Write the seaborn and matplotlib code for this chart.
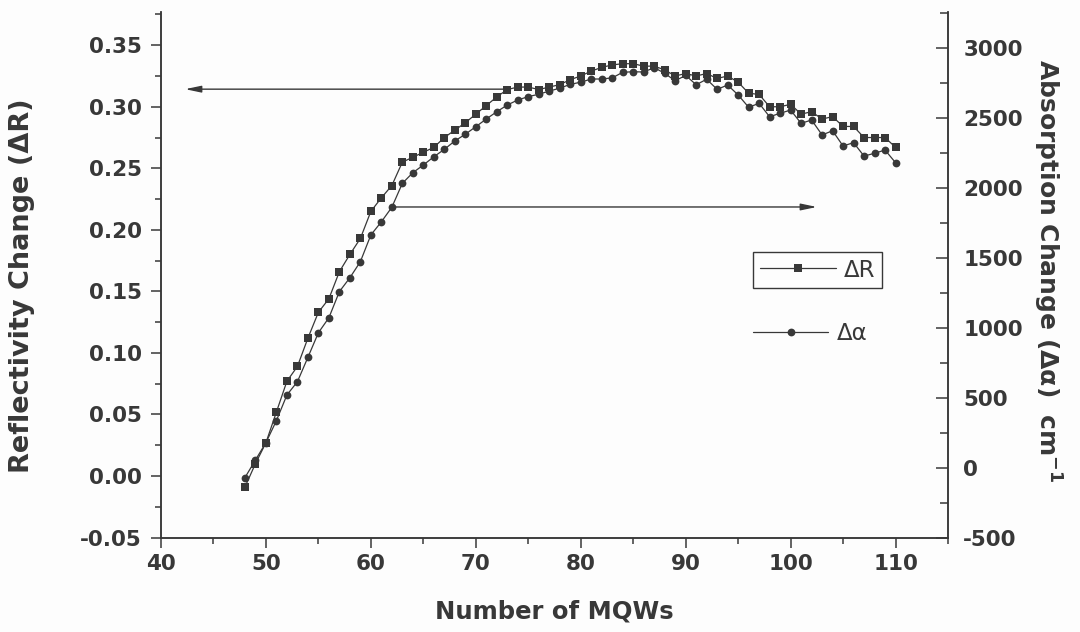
import matplotlib
matplotlib.use("Agg")
import matplotlib.pyplot as plt
from matplotlib.ticker import MultipleLocator
import seaborn as sns
import pandas as pd

# Number of quantum wells in the stack
mqw_count = [48, 49, 50, 51, 52, 53, 54, 55, 56, 57, 58, 59, 60, 61, 62, 63,
             64, 65, 66, 67, 68, 69, 70, 71, 72, 73, 74, 75, 76, 77, 78, 79,
             80, 81, 82, 83, 84, 85, 86, 87, 88, 89, 90, 91, 92, 93, 94, 95,
             96, 97, 98, 99, 100, 101, 102, 103, 104, 105, 106, 107, 108, 109, 110]

# Reflectivity change (left axis)
delta_r = [-0.009, 0.010, 0.027, 0.052, 0.077, 0.089, 0.112, 0.133, 0.144, 0.166,
           0.180, 0.193, 0.215, 0.226, 0.236, 0.255, 0.259, 0.263, 0.267, 0.275,
           0.281, 0.287, 0.294, 0.301, 0.308, 0.314, 0.316, 0.316, 0.314, 0.316,
           0.318, 0.322, 0.325, 0.329, 0.332, 0.334, 0.335, 0.335, 0.333, 0.333,
           0.330, 0.325, 0.327, 0.325, 0.327, 0.323, 0.325, 0.320, 0.311, 0.310,
           0.300, 0.300, 0.302, 0.294, 0.296, 0.290, 0.292, 0.284, 0.284, 0.275,
           0.275, 0.275, 0.267]

# Absorption change in cm^-1 (right axis)
delta_alpha = [-72, 54, 178, 336, 519, 614, 788, 964, 1071, 1258,
               1357, 1472, 1663, 1757, 1861, 2032, 2108, 2163, 2222, 2275,
               2335, 2383, 2437, 2492, 2544, 2592, 2628, 2652, 2669, 2692,
               2712, 2740, 2755, 2778, 2778, 2786, 2826, 2830, 2828, 2859,
               2819, 2765, 2804, 2737, 2776, 2704, 2735, 2664, 2576, 2604,
               2508, 2533, 2556, 2461, 2485, 2378, 2408, 2299, 2323, 2227,
               2247, 2270, 2180]

df = pd.DataFrame({"mqw": mqw_count, "dR": delta_r, "dA": delta_alpha})

sns.set_theme(style="ticks")
plt.rcParams["font.family"] = ["DejaVu Sans"]
plt.rcParams["axes.unicode_minus"] = False

ink = "#383838"
bg = "#fdfdfd"

fig = plt.figure(figsize=(10.8, 6.32), dpi=100, facecolor=bg)
ax = fig.add_axes([161 / 1080, 94.5 / 632, 787 / 1080, 525.5 / 632])
ax.set_facecolor(bg)
ax2 = ax.twinx()

sns.lineplot(data=df, x="mqw", y="dR", ax=ax, color=ink, linewidth=0.9,
             marker="s", markersize=5.2, markeredgewidth=0)
sns.lineplot(data=df, x="mqw", y="dA", ax=ax2, color=ink, linewidth=0.9,
             marker="o", markersize=5.6, markeredgewidth=0)

ax.set_xlim(40, 115)
ax.set_ylim(-0.05, 0.377)
ax2.set_ylim(-500, 3257)

ax.xaxis.set_minor_locator(MultipleLocator(5))
ax.yaxis.set_minor_locator(MultipleLocator(0.025))
ax2.yaxis.set_minor_locator(MultipleLocator(250))
ax.set_xticks([40, 50, 60, 70, 80, 90, 100, 110])
ax.set_yticks([-0.05, 0.00, 0.05, 0.10, 0.15, 0.20, 0.25, 0.30, 0.35])
ax.set_yticklabels(["-0.05", "0.00", "0.05", "0.10", "0.15", "0.20",
                    "0.25", "0.30", "0.35"])
ax2.set_yticks([-500, 0, 500, 1000, 1500, 2000, 2500, 3000])

for a in (ax, ax2):
    a.spines["top"].set_visible(False)
    for s in ("left", "right", "bottom"):
        a.spines[s].set_color(ink)
        a.spines[s].set_linewidth(1.1)
    a.set_xlabel("")
    a.set_ylabel("")
    a.grid(False)

ax.tick_params(axis="x", which="major", direction="out", length=7, width=1.1,
               color=ink, pad=5, labelsize=15.5, labelcolor=ink)
ax.tick_params(axis="x", which="minor", direction="out", length=4, width=1.1, color=ink)
ax.tick_params(axis="y", which="major", direction="out", length=7, width=1.1,
               color=ink, pad=7, labelsize=15.5, labelcolor=ink)
ax.tick_params(axis="y", which="minor", direction="out", length=4, width=1.1, color=ink)
ax2.tick_params(axis="y", which="major", direction="in", length=9, width=1.1,
                color=ink, pad=11, labelsize=15.5, labelcolor=ink)
ax2.tick_params(axis="y", which="minor", direction="in", length=6, width=1.1, color=ink)
for lab in ax.get_xticklabels() + ax.get_yticklabels() + ax2.get_yticklabels():
    lab.set_fontweight("bold")

# Axis titles
fig.text(554 / 1080, 1 - 612 / 632, "Number of MQWs", ha="center", va="center",
         fontsize=17.5, fontweight="bold", color=ink)
fig.text(22 / 1080, 1 - 286 / 632, "Reflectivity Change (ΔR)", ha="center",
         va="center", rotation=90, fontsize=19.5, fontweight="bold", color=ink)
fig.text(1047 / 1080, 1 - 271 / 632,
         "Absorption Change (Δα)  cm$^{\\mathregular{-1}}$", ha="center",
         va="center", rotation=270, fontsize=18, fontweight="bold", color=ink)

# Arrows pointing each curve to its axis
arrow_kw = dict(arrowstyle="-|>,head_length=0.95,head_width=0.2", color=ink,
                lw=1.0, mutation_scale=10, shrinkA=0, shrinkB=0)
ax.annotate("", xy=(42.3, 0.3143), xytext=(73.0, 0.3143), arrowprops=arrow_kw)
ax2.annotate("", xy=(102.5, 1863), xytext=(61.9, 1863), arrowprops=arrow_kw)

# Legends: boxed entry for ΔR, plain entry for Δα
leg1 = ax.legend([ax.lines[0]], ["ΔR"], loc="center",
                 bbox_to_anchor=(817.5 / 1080, 1 - 270 / 632),
                 bbox_transform=fig.transFigure, fontsize=16.5,
                 handlelength=3.3, handletextpad=0.35, borderpad=0.3,
                 fancybox=False, framealpha=1, edgecolor=ink, facecolor=bg)
leg1.get_frame().set_linewidth(1.0)
for t in leg1.get_texts():
    t.set_color(ink)
leg2 = ax2.legend([ax2.lines[0]], ["Δα"], loc="center",
                  bbox_to_anchor=(810 / 1080, 1 - 334 / 632),
                  bbox_transform=fig.transFigure, fontsize=16.5,
                  handlelength=3.3, handletextpad=0.35, frameon=False)
for t in leg2.get_texts():
    t.set_color(ink)

fig.savefig("out.png", dpi=100, facecolor=bg)
